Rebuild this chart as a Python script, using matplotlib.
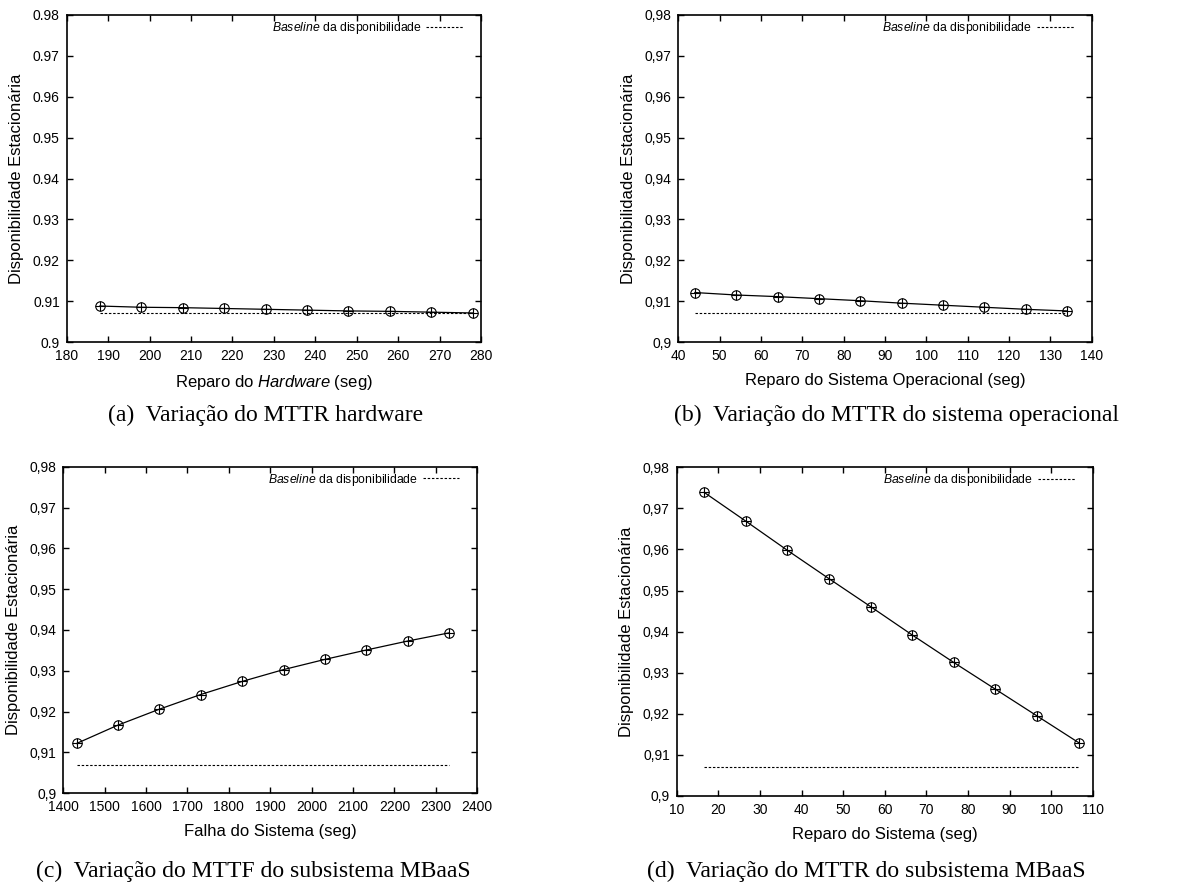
import matplotlib
matplotlib.use("Agg")
import matplotlib.pyplot as plt
from matplotlib.ticker import FuncFormatter, MultipleLocator

# ---------------- data ----------------
baseline = 0.907

a_x = [188, 198, 208, 218, 228, 238, 248, 258, 268, 278]
a_y = [0.9088, 0.9085, 0.9084, 0.9082, 0.9080, 0.9078, 0.9076, 0.9075, 0.9073, 0.9071]

b_x = [44, 54, 64, 74, 84, 94, 104, 114, 124, 134]
b_y = [0.9121, 0.9115, 0.9111, 0.9106, 0.9101, 0.9095, 0.9090, 0.9085, 0.9080, 0.9076]

c_x = [1432, 1532, 1632, 1732, 1832, 1932, 2032, 2132, 2232, 2332]
c_y = [0.9122, 0.9167, 0.9206, 0.9242, 0.9274, 0.9303, 0.9328, 0.9351, 0.9373, 0.9393]

d_x = [16.6, 26.6, 36.6, 46.6, 56.6, 66.6, 76.6, 86.6, 96.6, 106.6]
d_y = [0.9739, 0.9669, 0.9598, 0.9529, 0.9461, 0.9392, 0.9325, 0.9260, 0.9195, 0.9130]

xlabels = [r"Reparo do $\it{Hardware}$ (seg)",
           "Reparo do Sistema Operacional (seg)",
           "Falha do Sistema (seg)",
           "Reparo do Sistema (seg)"]
ylabel = "Disponibilidade Estacionária"
legend_label = r"$\it{Baseline}$ da disponibilidade"
captions = ["(a)  Variação do MTTR hardware",
            "(b)  Variação do MTTR do sistema operacional",
            "(c)  Variação do MTTF do subsistema MBaaS",
            "(d)  Variação do MTTR do subsistema MBaaS"]
xlims = [(180, 280), (40, 140), (1400, 2400), (10, 110)]
xsteps = [10, 10, 100, 10]
decimal_sep = [".", ",", ",", ","]

# ---------------- style ----------------
plt.rcParams['font.family'] = ['Liberation Sans', 'DejaVu Sans']
plt.rcParams['mathtext.fontset'] = 'custom'
plt.rcParams['mathtext.rm'] = 'Liberation Sans'
plt.rcParams['mathtext.it'] = 'Liberation Sans:italic'

W, H = 1179, 886
fig = plt.figure(figsize=(W / 100, H / 100), dpi=100)

# axes boxes in pixels: left, top, right, bottom
boxes = [(66.7, 15, 481, 342),
         (678.3, 15, 1091.7, 342),
         (63.3, 466.7, 477.3, 793.3),
         (676.7, 467.3, 1092.7, 796)]
cap_pos = [(266, 415), (897, 415), (253, 871), (866, 871)]

series = [(a_x, a_y), (b_x, b_y), (c_x, c_y), (d_x, d_y)]

for i, ((xs, ys), box) in enumerate(zip(series, boxes)):
    l, t, r, b = box
    ax = fig.add_axes([l / W, 1 - b / H, (r - l) / W, (b - t) / H])
    ax.plot(xs, ys, color='black', lw=0.9, marker='o', ms=6.8,
            mfc='none', mec='black', mew=0.8, zorder=3)
    ax.plot(xs, ys, ls='none', marker='+', ms=6.8, mec='black', mew=0.8, zorder=4)
    ax.plot([xs[0], xs[-1]], [baseline, baseline], color='black', lw=0.8,
            dashes=(2.2, 1.6), label=legend_label, zorder=2)

    ax.set_xlim(*xlims[i])
    ax.set_ylim(0.9, 0.98)
    ax.xaxis.set_major_locator(MultipleLocator(xsteps[i]))
    ax.yaxis.set_major_locator(MultipleLocator(0.01))
    sep = decimal_sep[i]
    ax.yaxis.set_major_formatter(FuncFormatter(lambda v, p, s=sep: ("%g" % round(v, 4)).replace(".", s)))
    ax.xaxis.set_major_formatter(FuncFormatter(lambda v, p: "%g" % v))

    ax.tick_params(direction='in', length=4, width=1.0, top=True, right=True,
                   labelsize=10, pad=5, colors='black')
    for sp in ax.spines.values():
        sp.set_linewidth(1.2)

    ax.set_xlabel(xlabels[i], fontsize=12, labelpad=7)
    ax.set_ylabel(ylabel, fontsize=12, labelpad=6)

    leg = ax.legend(loc='upper right', bbox_to_anchor=(1 - 18 / (r - l), 1 - 5 / (b - t)),
                    frameon=False, markerfirst=False, fontsize=8.8, handlelength=3.0,
                    handletextpad=0.4, borderpad=0, borderaxespad=0)

    cx, cy = cap_pos[i]
    fig.text(cx / W, 1 - cy / H, captions[i], ha='center', va='center',
             fontsize=17, family=['Liberation Serif', 'DejaVu Serif'])

fig.savefig("out.png", dpi=100, facecolor='white')
